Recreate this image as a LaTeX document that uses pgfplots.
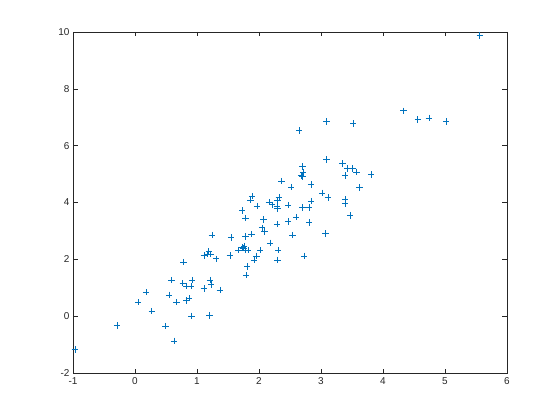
\documentclass[border=0pt]{standalone}
\usepackage{pgfplots}
\pgfplotsset{compat=1.18}
\usepackage{fontspec}
\setmainfont{Liberation Sans}
\definecolor{mblue}{RGB}{0,114,189}
\definecolor{axgray}{RGB}{38,38,38}
\begin{document}
\begin{tikzpicture}
\begin{axis}[
  anchor=south west, at={(0,0)},
  scale only axis, width=434bp, height=341bp,
  xmin=-1, xmax=6, ymin=-2, ymax=10,
  xtick={-1,0,...,6}, ytick={-2,0,...,10},
  tick align=inside, major tick length=4.5bp,
  axis line style={axgray, line width=0.5pt},
  every tick/.style={axgray, line width=0.5pt},
  tick label style={font=\fontsize{10}{12}\selectfont, text=axgray},
  /pgf/number format/assume math mode=true,
  xtick pos=both, ytick pos=both,
  xticklabel style={yshift=-1bp},
  clip=false,
]
\addplot[only marks, mark=+, mark size=3.2bp, mblue, line width=0.6pt] coordinates {
(-0.97,-1.18) (-0.29,-0.33) (0.05,0.49) (0.18,0.84) (0.27,0.18)
(0.49,-0.35) (0.55,0.75) (0.59,1.27) (0.63,-0.87) (0.67,0.49)
(0.78,1.90) (0.77,1.16) (0.83,1.06) (0.90,1.06) (0.92,1.27)
(0.83,0.55) (0.87,0.63) (0.91,0.01) (1.11,0.98) (1.20,0.02)
(1.21,1.27) (1.23,1.12) (1.37,0.92) (1.19,2.27) (1.16,2.19)
(1.22,2.19) (1.11,2.14) (1.24,2.85) (1.31,2.02) (1.55,2.77)
(1.53,2.14) (1.67,2.33) (1.73,2.42) (1.76,2.47) (1.78,2.33)
(1.82,2.33) (1.75,2.39) (1.73,3.72) (1.78,3.45) (1.78,2.81)
(1.88,2.89) (1.81,1.75) (1.79,1.44) (1.92,1.97) (1.96,2.12)
(2.02,2.32) (1.86,4.08) (1.89,4.22) (1.97,3.87) (2.07,3.40)
(2.05,3.11) (2.09,2.98) (2.16,4.01) (2.21,3.92) (2.32,4.18)
(2.30,4.06) (2.29,3.87) (2.30,3.79) (2.47,3.91) (2.29,3.24)
(2.18,2.58) (2.31,2.33) (2.30,1.98) (2.47,3.33) (2.54,2.85)
(2.60,3.49) (2.65,6.53) (3.09,6.85) (3.52,6.78) (3.09,5.51)
(3.35,5.37) (3.42,5.20) (3.51,5.20) (3.57,5.08) (3.39,4.95)
(2.70,5.27) (2.71,5.07) (2.68,4.95) (2.70,4.91) (2.84,4.64)
(2.36,4.75) (2.52,4.54) (3.02,4.34) (3.11,4.18) (3.39,4.11)
(3.39,3.97) (3.47,3.54) (2.84,4.05) (2.81,3.83) (2.70,3.82)
(2.81,3.30) (3.07,2.91) (2.73,2.12) (5.56,9.88) (4.33,7.23)
(4.56,6.92) (4.74,6.98) (5.02,6.85) (3.81,4.99) (3.62,4.53)
};
\end{axis}
\path (-73bp,-47bp) rectangle (487bp,373bp);
\end{tikzpicture}
\end{document}
